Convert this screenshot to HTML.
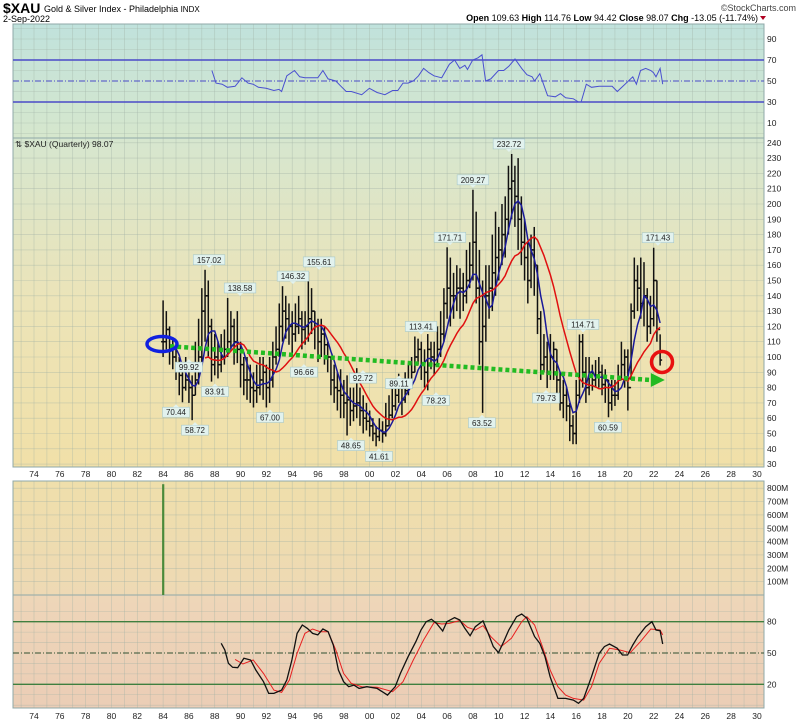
<!DOCTYPE html>
<html><head><meta charset="utf-8">
<style>
html,body{margin:0;padding:0;background:#fff;}
svg{display:block;font-family:"Liberation Sans",sans-serif;}
</style></head>
<body>
<svg id="chart" width="800" height="724" viewBox="0 0 800 724" xmlns="http://www.w3.org/2000/svg">
<defs>
<linearGradient id="gRsi" x1="0" y1="0" x2="0" y2="1"><stop offset="0" stop-color="#c0e2dc"/><stop offset="1" stop-color="#d6e7cd"/></linearGradient>
<linearGradient id="gPrice" x1="0" y1="0" x2="0" y2="1"><stop offset="0" stop-color="#d6e6cf"/><stop offset="0.5" stop-color="#ece4b8"/><stop offset="1" stop-color="#f1e0a8"/></linearGradient>
<linearGradient id="gVol" x1="0" y1="0" x2="0" y2="1"><stop offset="0" stop-color="#efdfab"/><stop offset="1" stop-color="#eed9b4"/></linearGradient>
<linearGradient id="gSto" x1="0" y1="0" x2="0" y2="1"><stop offset="0" stop-color="#eed6b8"/><stop offset="1" stop-color="#ebcdb6"/></linearGradient>
</defs>
<text x="3" y="13" font-size="14" font-weight="bold">$XAU</text>
<text x="44" y="12" font-size="9">Gold &amp; Silver Index - Philadelphia <tspan font-size="8">INDX</tspan></text>
<text x="3" y="22" font-size="9">2-Sep-2022</text>
<text x="796" y="11" font-size="9" text-anchor="end" fill="#444">©StockCharts.com</text>
<text x="758" y="21" font-size="9" text-anchor="end"><tspan font-weight="bold">Open</tspan> 109.63 <tspan font-weight="bold">High</tspan> 114.76 <tspan font-weight="bold">Low</tspan> 94.42 <tspan font-weight="bold">Close</tspan> 98.07 <tspan font-weight="bold">Chg</tspan> -13.05 (-11.74%)</text>
<polygon points="760,16 766,16 763,20" fill="#b00020"/>
<g id="layer"></g>
</svg>
<script>
// ===== data =====
const priceStartYear = 1984;
const closes = [110,118,105,100, 95,88,80,85, 80,75,85,100, 130,140,120,95, 100,95,100,105, 110,120,110,105, 95,85,85,80, 78,80,85,90, 80,85,100,105, 120,130,125,120, 115,120,125,118, 120,125,130,120, 110,115,108,100, 85,80,78,75, 70,72,65,68, 70,65,60,58, 55,50,48,52, 50,55,62,68, 75,80,72,78, 85,90,100,105, 95,90,105,100, 95,105,115,135, 145,140,140,145, 145,140,150,160, 175,145,110,120, 140,145,155,165, 170,180,190,210, 215,205,190,175, 165,150,170,160, 125,95,100,90, 100,105,85,70, 75,68,55,50, 75,110,90,80, 90,85,88,90, 82,85,70,75, 75,85,95,100, 80,130,150,145, 135,140,120,125, 150,118,98];
const highs = [137,130,120,112, 105,100,95,100, 95,88,110,125, 145,157,150,125, 115,110,115,118, 138.6,130,125,130, 110,100,100,95, 90,95,100,100, 95,100,110,120, 135,146.3,140,135, 130,135,140,130, 130,155.6,145,130, 125,125,120,110, 100,95,90,92, 85,88,80,80, 92.7,80,75,70, 65,60,55,60, 58,70,75,80, 85,89.1,85,90, 95,100,113.4,112, 110,105,115,110, 110,120,130,145, 171.7,165,155,160, 158,155,170,175, 209.3,195,170,150, 160,160,180,195, 185,200,205,225, 232.7,225,230,205, 190,175,180,185, 160,130,115,110, 115,110,105,90, 85,80,70,62, 85,114.7,115,100, 100,95,98,100, 95,92,85,85, 85,95,110,105, 105,135,165,160, 165,162,145,140, 171.4,150,114.8];
const lows = [100,105,95,92, 85,75,70.4,78, 70,58.7,75,82, 95,110,100,83.9, 88,86,90,95, 100,105,95,96, 80,75,72,70, 67,70,75,72, 67,70,80,95, 100,110,112,108, 100,110,115,105, 108,110,115,105, 96.7,100,95,90, 75,70,65,60, 60,48.7,55,58, 60,55,50,52, 48,45,41.6,45, 44,48,55,60, 65,70,62,70, 75,80,90,95, 85,80,78.2,92, 88,95,100,110, 125,120,125,130, 125,130,135,145, 150,135,95,63.5, 110,125,130,140, 150,160,165,180, 190,185,170,160, 150,135,145,140, 115,85,90,79.7, 85,85,75,65, 60,58,45,43, 43,70,80,70, 75,78,80,80, 75,70,60.6,65, 68,72,85,80, 65,85,125,130, 125,120,110,115, 120,110,94.4];
const annotYears = [1987.56,1986.0,1985.0,1986.47,1988.02,1989.96,1994.06,1996.08,1994.91,1992.28,1999.48,2002.27,1998.55,2000.72,2003.98,2005.14,2006.22,2008.0,2010.79,2008.7,2016.53,2013.66,2018.46,2022.33];
const annotValues = [157.02,99.92,70.44,58.72,83.91,138.58,146.32,155.61,96.66,67.00,92.72,89.11,48.65,41.61,113.41,78.23,171.71,209.27,232.72,63.52,114.71,79.73,60.59,171.43];
const annotIsHigh = [1,0,0,0,0,1,1,1,0,0,0,0,0,0,1,0,1,1,1,0,1,0,0,1];
const trendYears = [1984.55, 2021.7];
const trendValues = [107, 85];
const rsiYears = [1987.78,1988.1,1988.58,1988.98,1989.58,1990.1,1990.58,1990.98,1991.38,1991.98,1992.58,1992.98,1993.18,1993.58,1994.18,1994.58,1994.98,1995.38,1995.98,1996.38,1996.78,1997.38,1997.78,1998.18,1998.58,1999.38,1999.98,2000.58,2001.18,2001.78,2002.18,2002.58,2002.98,2003.38,2003.78,2004.18,2004.58,2004.98,2005.58,2006.18,2006.58,2006.98,2007.38,2007.58,2007.98,2008.38,2008.7,2008.98,2009.38,2009.98,2010.38,2010.78,2011.26,2011.78,2012.18,2012.58,2012.78,2013.18,2013.78,2014.38,2014.78,2015.18,2015.78,2016.18,2016.38,2016.78,2017.18,2017.78,2018.38,2018.78,2019.18,2019.78,2020.38,2020.66,2020.98,2021.38,2021.78,2021.98,2022.18,2022.5,2022.7];
const rsiValues = [60,48,47,44,45,53,48,47,44,43,41,42,40,55,60,54,53,53,53,60,52,50,45,40,40,37,43,39,37,41,41,48,48,50,55,62,58,55,53,66,70,62,65,61,70,72,75,50,52,60,60,64,71,62,56,54,50,57,36,35,38,34,33,30,30,47,44,45,45,45,40,47,54,47,60,62,60,58,54,62,47];
const kYears = [1988.5,1988.78,1989.06,1989.38,1989.78,1990.26,1990.78,1991.18,1991.78,1992.18,1992.58,1993.18,1993.58,1993.98,1994.38,1994.78,1995.18,1995.58,1995.98,1996.38,1996.78,1997.18,1997.58,1997.98,1998.38,1998.78,1999.18,1999.78,2000.58,2001.38,2001.98,2002.38,2002.98,2003.58,2003.98,2004.38,2004.78,2005.18,2005.66,2005.98,2006.58,2006.98,2007.38,2007.78,2008.18,2008.78,2009.18,2009.58,2009.98,2010.38,2010.78,2011.38,2011.78,2012.18,2012.78,2013.18,2013.58,2013.98,2014.58,2015.18,2015.78,2016.18,2016.58,2017.18,2017.78,2018.18,2018.58,2019.18,2019.58,2019.98,2020.38,2020.78,2021.38,2021.86,2022.18,2022.5,2022.7];
const kValues = [59.3,52.9,40.1,36.3,35.9,44.9,43.3,33.7,22.5,11.3,11.3,14.5,24.1,43.3,68.8,76.8,73.6,68.8,67.3,73,70.4,57.7,33.7,22.5,17.7,19.3,16.1,17.7,16.1,9.7,17.7,30.5,46.5,60.9,72,80,82.3,78.4,71.1,80,83.9,81.6,73.6,66.6,75.2,80.7,68.8,56.1,50.3,60.9,72,84.8,87.4,83.2,65.7,59.3,46.5,27.3,6.5,6.5,4.9,1.8,6.5,27.3,49.7,56.1,58.6,54.5,48.1,48.1,57.7,65.7,75.2,80,72,71.4,58.6];
const dYears = [1989.58,1990.18,1990.98,1991.78,1992.58,1993.18,1993.78,1994.38,1994.98,1995.58,1996.18,1996.78,1997.38,1997.98,1998.58,1999.38,2000.58,2001.78,2002.58,2003.38,2004.18,2004.98,2005.58,2006.18,2006.98,2007.58,2008.18,2008.78,2009.38,2010.18,2010.98,2011.78,2012.18,2012.78,2013.38,2013.98,2014.58,2015.18,2015.78,2016.58,2017.18,2017.78,2018.58,2019.38,2020.18,2020.98,2021.78,2022.5,2022.7];
const dValues = [43.9,39.5,43.3,30.5,14.5,12.3,24.1,49.7,68.8,73,70.4,70.4,52.9,30.5,20.9,17.7,17.1,12.9,22.5,43.3,62.5,79.1,77.8,78.4,81,74.6,72,76.2,65.7,56.1,64.1,80,84.8,76.8,56.1,33.7,17.7,9.7,6.5,4.9,17.7,40.1,54.5,52.9,50.3,60.9,73,72,67.3];
const volYears = [1984.0];
const volValues = [830];
const priceTicks = [240,230,220,210,200,190,180,170,160,150,140,130,120,110,100,90,80,70,60,50,40,30];
const rsiTicks = [90,70,50,30,10];
const volTicks = [800,700,600,500,400,300,200,100];
const stoTicks = [80,50,20];

// ===== scales =====
const L = 13, R = 764;
const P = {rsi:[24,138], price:[138,467], vol:[481,595], sto:[595,708]};
const X = y => 34 + (y - 1974) * 12.91;
const Yp = v => 357 - (v - 100) * 1.53;
const Yr = v => 81 - (v - 50) * 1.05;
const Yv = v => 595 - v * 0.1335;
const Ys = v => 653 - (v - 50) * 1.044;
const NS = "http://www.w3.org/2000/svg";
const layer = document.getElementById('layer');
function mk(tag, attrs, parent) {
  const el = document.createElementNS(NS, tag);
  for (const k in attrs) el.setAttribute(k, attrs[k]);
  (parent || layer).appendChild(el);
  return el;
}
function poly(xs, ys, fx, fy) { return xs.map((x,i)=>fx(x).toFixed(1)+','+fy(ys[i]).toFixed(1)).join(' '); }

// panels
const panelFill = {rsi:'url(#gRsi)', price:'url(#gPrice)', vol:'url(#gVol)', sto:'url(#gSto)'};
for (const k in P) {
  const r = mk('rect', {x:L, y:P[k][0], width:R-L, height:P[k][1]-P[k][0], fill:panelFill[k], stroke:'#8fa8a8', 'stroke-width':1});
  
  
}
// vertical grid
const grid = mk('g', {stroke:'#9fb0a4', 'stroke-width':0.6, opacity:0.55});


for (let yr = 1973; yr <= 2030; yr++) {
  const x = X(yr);
  if (x < L || x > R) continue;
  mk('line', {x1:x, x2:x, y1:P.rsi[0], y2:P.price[1]}, grid);
  mk('line', {x1:x, x2:x, y1:P.vol[0], y2:P.sto[1]}, grid);
}
// horizontal grid
function hgrid(vals, fy, name) {
  const g = mk('g', {stroke:'#9fb0a4', 'stroke-width':0.6, opacity:0.55});
  
  
  vals.forEach(v => mk('line', {x1:L, x2:R, y1:fy(v), y2:fy(v)}, g));
}
hgrid([100,90,80,60,40,20,10,0], Yr, 'rsi-gridlines');
const pg = []; for (let v = 30; v <= 240; v += 10) pg.push(v);
hgrid(pg, Yp, 'price-gridlines');
hgrid([800,700,600,500,400,300,200,100], Yv, 'volume-gridlines');
hgrid([90,70,60,40,30,10,0], Ys, 'stoch-gridlines');

// axis labels
function rightLabels(vals, fy, fmt, name) {
  const g = mk('g', {'font-size':8.5, fill:'#222'});
  
  
  vals.forEach(v => { const t = mk('text', {x:767, y:fy(v)+3}, g); t.textContent = fmt(v); });
}
rightLabels(rsiTicks, Yr, v=>v, 'rsi-y-axis');
rightLabels(priceTicks, Yp, v=>v, 'price-y-axis');
rightLabels(volTicks, Yv, v=>v+'M', 'volume-y-axis');
rightLabels(stoTicks, Ys, v=>v, 'stoch-y-axis');
[477, 719].forEach((yy, i) => {
  const g = mk('g', {'font-size':8.5, fill:'#222', 'text-anchor':'middle'});
  
  
  for (let yr = 1974; yr <= 2030; yr += 2) {
    const t = mk('text', {x:X(yr), y:yy}, g);
    t.textContent = String(yr % 100).padStart(2, '0');
  }
});

// RSI
[[70,'none'],[30,'none'],[50,'6,2,1,2']].forEach(([v,d]) => {
  const l = mk('line', {x1:L, x2:R, y1:Yr(v), y2:Yr(v), stroke:'#4a4ac8', 'stroke-width':v===50?1:1.4, 'stroke-dasharray':d});
  
  
});
const rsiLine = mk('polyline', {points:poly(rsiYears, rsiValues, X, Yr), fill:'none', stroke:'#4a50d0', 'stroke-width':1});



// price label
const pl = mk('text', {x:15, y:147, 'font-size':8.5, fill:'#222'});


pl.textContent = '⇅ $XAU (Quarterly) 98.07';

// price bars
const bars = mk('g', {stroke:'#111', 'stroke-width':1.5});


const qYears = closes.map((c,i) => priceStartYear + i * 0.25);
closes.forEach((c, i) => {
  const x = X(qYears[i]);
  const o = i ? closes[i-1] : c;
  const b = mk('g', {}, bars);
  
  
  mk('line', {x1:x, x2:x, y1:Yp(highs[i]), y2:Yp(lows[i])}, b);
  mk('line', {x1:x-2, x2:x, y1:Yp(o), y2:Yp(o)}, b);
  mk('line', {x1:x, x2:x+2, y1:Yp(c), y2:Yp(c)}, b);
});
// moving averages
function sma(n) { const out = []; closes.forEach((c,i)=>{ if (i>=n-1){ let s=0; for(let j=i-n+1;j<=i;j++) s+=closes[j]; out.push([qYears[i], s/n]); } }); return out; }
[[5,'#1a1a9a','blue-moving-average'],[14,'#e01010','red-moving-average']].forEach(([n,col,name]) => {
  const m = sma(n);
  const l = mk('polyline', {points:m.map(p=>X(p[0]).toFixed(1)+','+Yp(p[1]).toFixed(1)).join(' '), fill:'none', stroke:col, 'stroke-width':1.5});
  
  
});
// trend line
const tl = mk('line', {x1:X(trendYears[0]), y1:Yp(trendValues[0]), x2:X(trendYears[1]), y2:Yp(trendValues[1]), stroke:'#22bb22', 'stroke-width':4.5, 'stroke-dasharray':'4,3'});


const ax = X(trendYears[1]), ay = Yp(trendValues[1]);
const ah = mk('polygon', {points:`${ax+1},${ay-7} ${ax+15},${ay} ${ax+1},${ay+7}`, fill:'#22bb22'});


// markers
const be = mk('ellipse', {cx:162, cy:344, rx:15, ry:7.5, fill:'none', stroke:'#1020e0', 'stroke-width':3.5});


const rc = mk('circle', {cx:662, cy:362, r:10.5, fill:'none', stroke:'#e81010', 'stroke-width':3.5});


// annotations
annotValues.forEach((v, i) => {
  const x = X(annotYears[i]), y = Yp(v);
  const g = mk('g', {});
  
  
  const txt = v.toFixed(2);
  const w = txt.length * 4.6 + 4;
  const by = annotIsHigh[i] ? y - 15 : y + 5;
  mk('rect', {x:x-w/2, y:by, width:w, height:10, fill:'#e2f2ee', stroke:'#a8c8c8', 'stroke-width':0.6}, g);
  mk('polygon', {points: annotIsHigh[i] ? `${x-3},${by+10} ${x+3},${by+10} ${x},${by+13}` : `${x-3},${by} ${x+3},${by} ${x},${by-3}`, fill:'#e2f2ee'}, g);
  const t = mk('text', {x:x, y:by+8, 'font-size':8, 'text-anchor':'middle', fill:'#222'}, g);
  t.textContent = txt;
});

// volume
volValues.forEach((v, i) => {
  const r = mk('rect', {x:X(volYears[i])-1, y:Yv(v), width:2.2, height:P.vol[1]-Yv(v), fill:'#4a8a3a'});
  
  
});

// stochastics
[[80,'none'],[20,'none'],[50,'6,2,1,2']].forEach(([v,d]) => {
  const l = mk('line', {x1:L, x2:R, y1:Ys(v), y2:Ys(v), stroke:v===50?'#305030':'#3f7f3f', 'stroke-width':v===50?1:1.4, 'stroke-dasharray':d});
  
  
});
const dl = mk('polyline', {points:poly(dYears, dValues, X, Ys), fill:'none', stroke:'#e82020', 'stroke-width':1});


const kl = mk('polyline', {points:poly(kYears, kValues, X, Ys), fill:'none', stroke:'#111', 'stroke-width':1.3});


</script>
</body></html>
